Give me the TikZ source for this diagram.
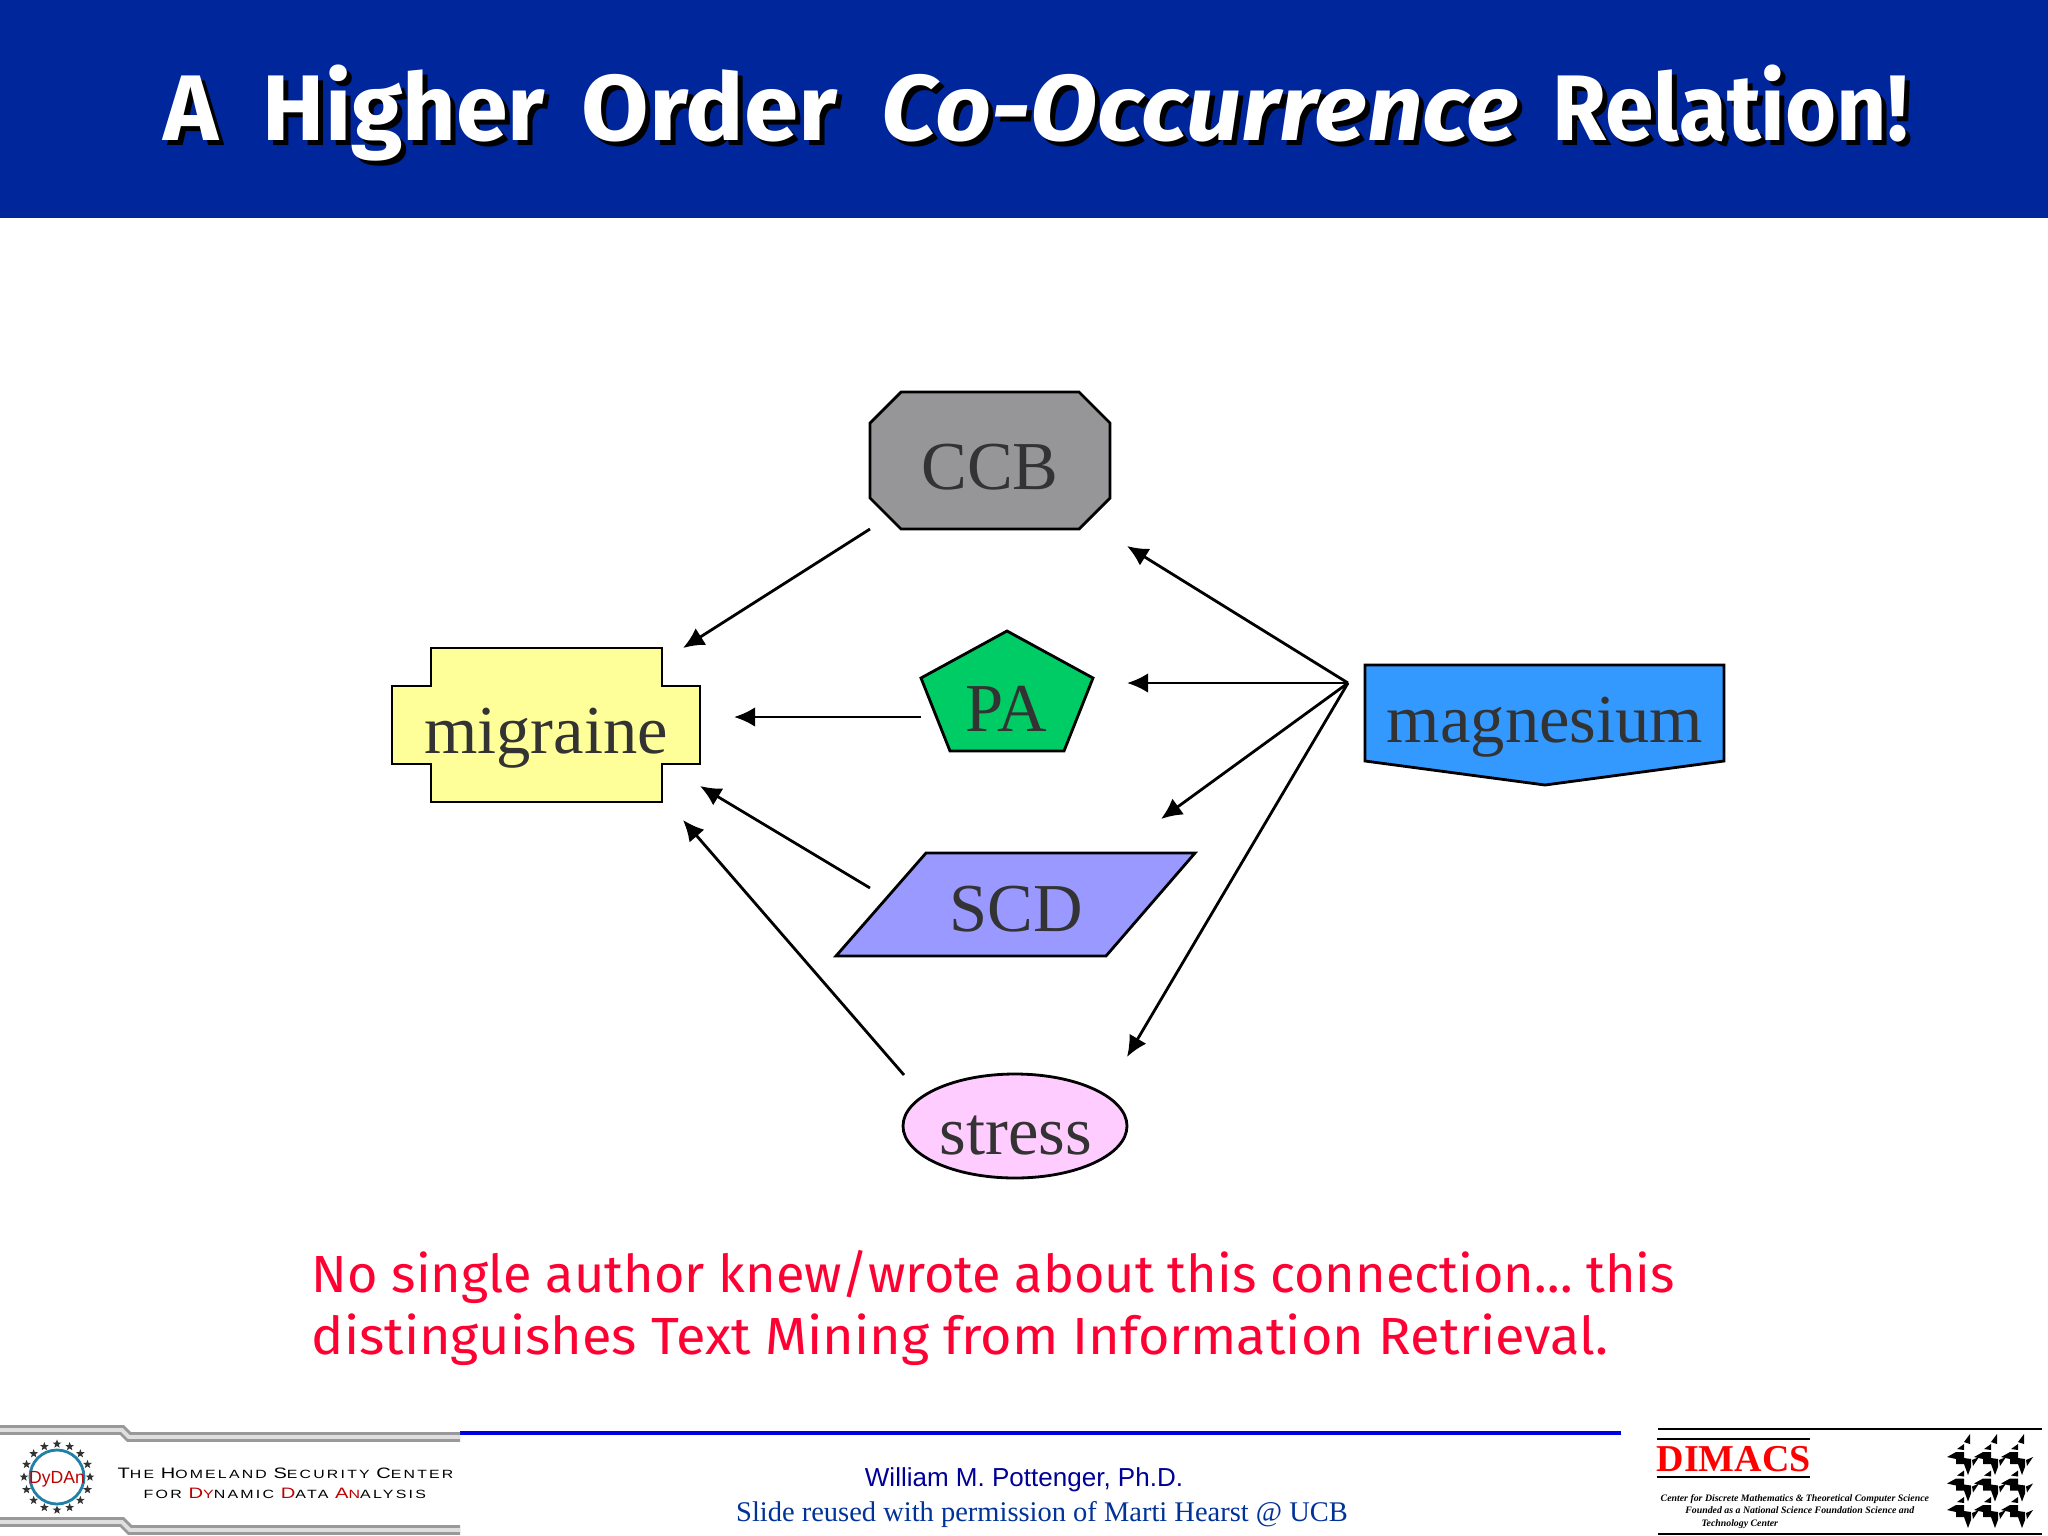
\documentclass[tikz,border=0pt]{standalone}
\usepackage{fontspec}
\setmainfont{Liberation Serif}
\newfontfamily\titlefont{Fira Sans}
\newfontfamily\heavyfont{Liberation Sans}
\usetikzlibrary{arrows.meta,shapes.geometric,calc}
\definecolor{banner}{HTML}{00269C}
\definecolor{darktext}{HTML}{333333}
\definecolor{alertred}{HTML}{FF0033}
\definecolor{ringblue}{HTML}{2080A8}
\newcommand{\tallcap}[1]{{\fontsize{4.3}{5}\selectfont #1}}
\newcommand{\redcap}[1]{\textcolor{red!75!black}{#1}}
\newcommand{\titleline}{\spaceskip=0.475em A Higher\hspace{-2.2pt} \scalebox{1.05}[1]{Order} \scalebox{1.05}[1]{\textit{Co-Occurrence}}\hspace{-3pt} \scalebox{0.94}[1]{Relation!}}
\tikzset{
  boxshape/.style={draw=black,line width=0.8pt},
  boxlabel/.style={anchor=base,text=darktext,inner sep=0pt,font=\fontsize{19.5}{20}\selectfont},
  linkarrow/.style={draw=black,line width=0.8pt,-{Latex[length=6pt,width=5.6pt]}},
  titletext/.style={anchor=base west,inner sep=0pt,font=\titlefont\bfseries\fontsize{26.5}{30}\selectfont},
  bodytext/.style={anchor=base west,inner sep=0pt,text=alertred,font=\titlefont\fontsize{14.85}{17.36}\selectfont},
  band/.style={line width=2.8pt,draw=gray!80,line join=miter},
  bandlight/.style={line width=1.1pt,draw=gray!25},
  chip/.style={fill=black,draw=none},
}
\begin{document}
\begin{tikzpicture}[x=0.01cm,y=-0.01cm]
   \useasboundingbox (0,0) rectangle (2048,1536);
   \fill[white] (0,0) rectangle (2048,1536);
   % banner
   \fill[banner] (0,0) rectangle (2048,218);
   \node[titletext,text=black] (titleshadow) at (168,145) {\titleline};
   \node[titletext,text=white] (title) at (163,140) {\titleline};
   % shapes
   \draw[boxshape,fill={rgb,255:red,150;green,150;blue,153}] (901,392) -- (1079,392) -- (1110,423) -- (1110,498) -- (1079,529) -- (901,529) -- (870,498) -- (870,423) -- cycle;
   \draw[boxshape,fill={rgb,255:red,255;green,255;blue,153}] (431,648) -- (662,648) -- (662,686) -- (700,686) -- (700,764) -- (662,764) -- (662,802) -- (431,802) -- (431,764) -- (392,764) -- (392,686) -- (431,686) -- cycle;
   \draw[boxshape,fill={rgb,255:red,0;green,204;blue,102}] (1007,631) -- (1093,678) -- (1064,751) -- (950,751) -- (921,678) -- cycle;
   \draw[boxshape,fill={rgb,255:red,51;green,153;blue,255}] (1365,665) -- (1724,665) -- (1724,761) -- (1545,785) -- (1365,761) -- cycle;
   \draw[boxshape,fill={rgb,255:red,153;green,153;blue,255}] (926,853) -- (1195,853) -- (1106,956) -- (836,956) -- cycle;
   \draw[boxshape,fill={rgb,255:red,255;green,204;blue,255}] (1015,1126) ellipse (112 and 52);
   \node[boxlabel] (ccb) at (990,489) {CCB};
   \node[boxlabel] (migraine) at (546,753) {migraine};
   \node[boxlabel] (pa) at (1006,731) {PA};
   \node[boxlabel] (magnesium) at (1545,742) {magnesium};
   \node[boxlabel] (scd) at (1016,931) {SCD};
   \node[boxlabel] (stress) at (1016,1154) {stress};
   % arrow ends
   \coordinate (hub) at (1348,683);
   \coordinate (ccbin) at (1127,546);
   \coordinate (pain) at (1127,683);
   \coordinate (scdin) at (1161,819);
   \coordinate (stressin) at (1127,1057);
   \coordinate (ccbout) at (870,529);
   \coordinate (paout) at (921,717);
   \coordinate (scdout) at (870,888);
   \coordinate (stressout) at (904,1075);
   \coordinate (migccb) at (683,648);
   \coordinate (migpa) at (734,717);
   \coordinate (migscd) at (700,786);
   \coordinate (migstress) at (683,820);
   \draw[linkarrow] (ccbout) -- (migccb);
   \draw[linkarrow] (paout) -- (migpa);
   \draw[linkarrow] (scdout) -- (migscd);
   \draw[linkarrow] (stressout) -- (migstress);
   \draw[linkarrow] (hub) -- (ccbin);
   \draw[linkarrow] (hub) -- (pain);
   \draw[linkarrow] (hub) -- (scdin);
   \draw[linkarrow] (hub) -- (stressin);
   % remark
   \node[bodytext,align=left] (remark) at (311,1354) {No single author knew/wrote about this connection\dots{} this\\\scalebox{1.035}[1]{distinguishes Text Mining from Information Retrieval.}};
   % footer
   \draw[blue!90!black,line width=1.2pt] (460,1433) -- (1621,1433);
   \node[inner sep=0pt,anchor=base,text={rgb,255:red,0;green,0;blue,153},font=\heavyfont\fontsize{7.4}{9}\selectfont] (author) at (1024,1486) {William M. Pottenger, Ph.D.};
   \node[inner sep=0pt,anchor=base,text={rgb,255:red,0;green,51;blue,153},font=\fontsize{8.1}{10}\selectfont] (credit) at (1042,1521) {Slide reused with permission of Marti Hearst @ UCB};
   % dydan
   \draw[band] (0,1430) -- (122,1430) -- (129,1437) -- (460,1437);
   \draw[bandlight] (0,1430) -- (122,1430) -- (129,1437) -- (460,1437);
   \draw[band] (0,1522) -- (122,1522) -- (130,1530) -- (460,1530);
   \draw[bandlight] (0,1522) -- (122,1522) -- (130,1530) -- (460,1530);
   \draw[ringblue,line width=0.8pt] (57,1477) circle (27);
   \foreach \a in {0,22.5,...,337.5}
     \node[star,star points=5,star point ratio=2.4,fill=black!80,inner sep=0pt,minimum size=2.6pt] at ($(57,1477)+(\a:33)$) {};
   \node[inner sep=0pt,anchor=base,text=red!75!black,font=\heavyfont\fontsize{5}{6}\selectfont] (dydan) at (57,1483) {DyDAn};
   \node[inner sep=0pt,anchor=base west,font=\heavyfont\fontsize{3.4}{5}\selectfont] (center) at (117,1478) {\scalebox{1.325}[1]{\addfontfeature{LetterSpace=14}\tallcap{T}HE \tallcap{H}OMELAND \tallcap{S}ECURITY \tallcap{C}ENTER}};
   \node[inner sep=0pt,anchor=base west,font=\heavyfont\fontsize{3.4}{5}\selectfont] (dda) at (143,1498) {\scalebox{1.335}[1]{\addfontfeature{LetterSpace=14}FOR \redcap{\tallcap{D}Y}NAMIC \redcap{\tallcap{D}}ATA \redcap{\tallcap{A}N}ALYSIS}};
   % dimacs
   \draw[black,line width=0.6pt] (1658,1429) -- (2042,1429);
   \draw[black,line width=0.6pt] (1658,1534) -- (2042,1534);
   \draw[black,line width=0.6pt] (1657,1439) -- (1810,1439);
   \draw[black,line width=0.6pt] (1657,1477) -- (1810,1477);
   \node[inner sep=0pt,anchor=base west,text=red,font=\bfseries\fontsize{10.8}{11}\selectfont] (dimacs) at (1656,1471) {DIMACS};
   \node[inner sep=0pt,anchor=base west,align=left,font=\itshape\bfseries\fontsize{2.8}{3.5}\selectfont] (founded) at (1660,1526) {Center for Discrete Mathematics \& Theoretical Computer Science\\\hspace*{7pt}Founded as a National Science Foundation Science and\\\hspace*{11.6pt}Technology Center};
   \foreach \i in {0,1,2}
     \foreach \j in {0,1,2} {
       \begin{scope}[shift={(1947+\i*27,1457+\j*26.5)}]
         \fill[chip] (0,0) -- (9,-5) -- (17,-5) -- (17,1) -- (24,2) -- (24,10) -- (21,18) -- (17,7) -- (9,7) -- (9,2) -- cycle;
         \fill[chip] (25,3) -- (32,0) -- (26,9) -- cycle;
         \ifnum\j=0 \fill[chip] (17,-15) -- (23,-23) -- (23,-13) -- cycle; \fi
         \fill[chip] (10,-8) -- (17,-13) -- (17,-7) -- cycle;
       \end{scope}
     }
  \end{tikzpicture}
\end{document}
